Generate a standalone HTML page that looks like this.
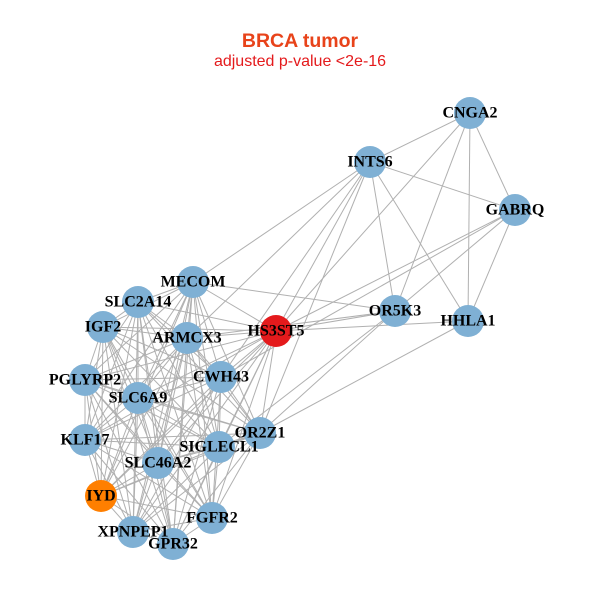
<!DOCTYPE html>
<html><head><meta charset="utf-8"><style>
body{margin:0;background:#fff;width:600px;height:600px;overflow:hidden}
svg{display:block}
text.l{font-family:"Liberation Serif",serif;font-weight:bold;font-size:16px;fill:#000;text-anchor:middle;dominant-baseline:central}
</style></head><body>
<svg id="s" width="600" height="600" xmlns="http://www.w3.org/2000/svg">
<text x="300" y="47" text-anchor="middle" font-family="Liberation Sans,sans-serif" font-weight="bold" font-size="19.5" fill="#e8431a">BRCA tumor</text>
<text x="300" y="66" text-anchor="middle" font-family="Liberation Sans,sans-serif" font-size="16" fill="#e41a1c">adjusted p-value &lt;2e-16</text>
<g id="e" stroke="#b0b0b0" stroke-width="1"></g>
<g id="n"></g>
</svg>
<script>
var N={CNGA2:[470,113],INTS6:[370,162],GABRQ:[515,210],OR5K3:[395,311],HHLA1:[468,321],HS3ST5:[276,331],
MECOM:[193,282],SLC2A14:[138,302],IGF2:[103,327],ARMCX3:[187,338],PGLYRP2:[85,380],CWH43:[221,377],
SLC6A9:[138,398],OR2Z1:[260,433],KLF17:[85,440],SIGLECL1:[219,447],SLC46A2:[158,463],IYD:[101,496],
FGFR2:[212,518],XPNPEP1:[133,532],GPR32:[173,544]};
var cl=["MECOM","SLC2A14","IGF2","ARMCX3","PGLYRP2","CWH43","SLC6A9","OR2Z1","KLF17","SIGLECL1","SLC46A2","IYD","FGFR2","XPNPEP1","GPR32","HS3ST5"];
var E=[];
for(var i=0;i<cl.length;i++)for(var j=i+1;j<cl.length;j++)E.push([cl[i],cl[j]]);
[["INTS6","HS3ST5"],["INTS6","MECOM"],["INTS6","ARMCX3"],["INTS6","CWH43"],["INTS6","OR5K3"],["INTS6","HHLA1"],["INTS6","CNGA2"],["INTS6","GABRQ"],["INTS6","OR2Z1"],
["CNGA2","GABRQ"],["CNGA2","HHLA1"],["CNGA2","OR5K3"],["CNGA2","HS3ST5"],
["GABRQ","HHLA1"],["GABRQ","OR5K3"],["GABRQ","HS3ST5"],["GABRQ","CWH43"],
["OR5K3","HS3ST5"],["OR5K3","OR2Z1"],["OR5K3","SIGLECL1"],["OR5K3","ARMCX3"],["OR5K3","MECOM"],
["HHLA1","HS3ST5"],["HHLA1","OR2Z1"]].forEach(function(x){E.push(x)});
var ns="http://www.w3.org/2000/svg",ge=document.getElementById("e"),gn=document.getElementById("n");
E.forEach(function(x){var a=N[x[0]],b=N[x[1]],l=document.createElementNS(ns,"line");
l.setAttribute("x1",a[0]);l.setAttribute("y1",a[1]);l.setAttribute("x2",b[0]);l.setAttribute("y2",b[1]);ge.appendChild(l);});
for(var k in N){var c=document.createElementNS(ns,"circle");c.setAttribute("cx",N[k][0]);c.setAttribute("cy",N[k][1]);c.setAttribute("r",16);
c.setAttribute("fill",k=="HS3ST5"?"#e41a1c":k=="IYD"?"#ff7f00":"#7fb0d4");gn.appendChild(c);}
for(var k in N){var t=document.createElementNS(ns,"text");t.setAttribute("class","l");t.setAttribute("x",N[k][0]);t.setAttribute("y",N[k][1]);t.textContent=k;gn.appendChild(t);}
</script>
</body></html>
